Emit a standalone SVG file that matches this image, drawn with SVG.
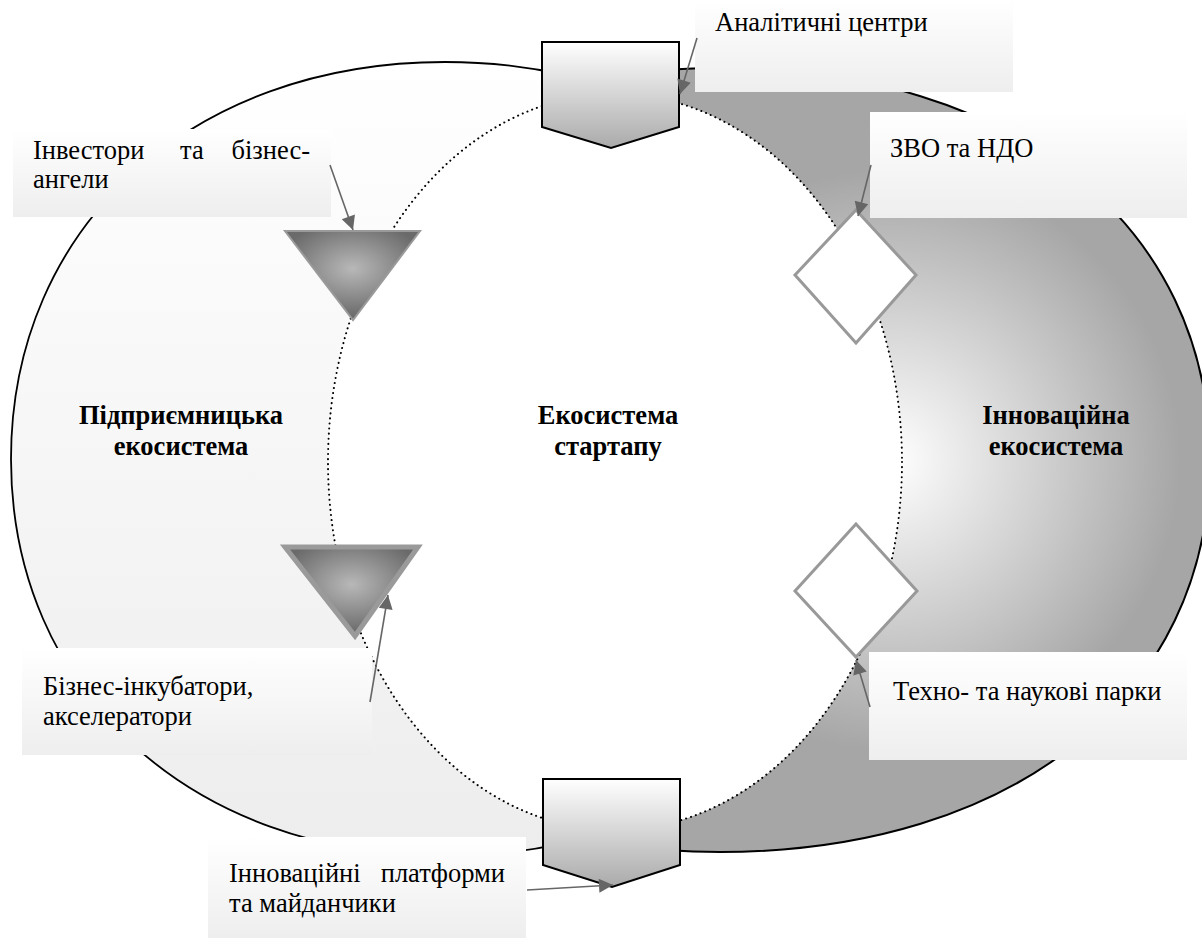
<svg xmlns="http://www.w3.org/2000/svg" width="1202" height="938" viewBox="0 0 1202 938">
<defs>
<linearGradient id="lightFill" x1="0" y1="0" x2="0" y2="1"><stop offset="0" stop-color="#ffffff"/><stop offset="1" stop-color="#ededed"/></linearGradient>
<radialGradient id="darkFill" gradientUnits="userSpaceOnUse" cx="890" cy="460" r="290"><stop offset="0" stop-color="#ffffff"/><stop offset="1" stop-color="#a6a6a6"/></radialGradient>
<linearGradient id="pentFill" x1="0" y1="0" x2="0" y2="1"><stop offset="0" stop-color="#ffffff"/><stop offset="1" stop-color="#aaaaaa"/></linearGradient>
<radialGradient id="triFill" cx="0.5" cy="0.42" r="0.55"><stop offset="0" stop-color="#b8b8b8"/><stop offset="1" stop-color="#6a6a6a"/></radialGradient>
<linearGradient id="calloutFill" x1="0" y1="0" x2="0" y2="1"><stop offset="0" stop-color="#ffffff"/><stop offset="1" stop-color="#eeeeee"/></linearGradient>
<marker id="arr" viewBox="0 0 10 10" refX="10" refY="5" markerWidth="19" markerHeight="14" markerUnits="userSpaceOnUse" orient="auto"><path d="M0,0 L10,5 L0,10 z" fill="#666666"/></marker>
<style>
.lbl{font-family:"Liberation Serif","Times New Roman",serif;font-size:26.5px;fill:#000}
.bold{font-family:"Liberation Serif","Times New Roman",serif;font-size:26.5px;font-weight:bold;fill:#000;text-anchor:middle}
.callout{fill:url(#calloutFill);stroke:none}
.pent{fill:url(#pentFill);stroke:#000;stroke-width:2}
.tri{fill:url(#triFill);stroke:#9a9a9a}
.dia{fill:#ffffff;stroke:#999999;stroke-width:3}
.conn{stroke:#666666;stroke-width:1.6;fill:none;marker-end:url(#arr)}
</style>
</defs>
<g id="innovation-ecosystem">
<path d="M720,68 C1014,68 1210,224.8 1210,460 C1210,695.2 1014,852 720,852 C426,852 230,695.2 230,460 C230,224.8 426,68 720,68 Z" fill="url(#darkFill)" stroke="#000" stroke-width="2"/>
<text class="bold" x="1056" y="424">Інноваційна</text>
<text class="bold" x="1056" y="455">екосистема</text>
</g>
<g id="entrepreneurial-ecosystem">
<path d="M445,62 C191.1,62 11,226.8 11,459 C11,691.2 191.1,856 445,856 C698.9,856 879,691.2 879,459 C879,226.8 698.9,62 445,62 Z" fill="url(#lightFill)" stroke="#000" stroke-width="1.8"/>
<text class="bold" x="181" y="424">Підприємницька</text>
<text class="bold" x="181" y="455">екосистема</text>
</g>
<g id="startup-ecosystem">
<ellipse cx="615" cy="462" rx="287" ry="368" fill="#ffffff" stroke="#000" stroke-width="2" stroke-dasharray="0.1 5" stroke-linecap="round"/>
<text class="bold" x="608" y="424">Екосистема</text>
<text class="bold" x="608" y="455">стартапу</text>
</g>
<g id="pentagon-top"><polygon class="pent" points="542,42 679,42 679,127 611,148 542,127"/></g>
<g id="pentagon-bottom"><polygon class="pent" points="543,779 680,779 680,865 612,887 543,865"/></g>
<g id="triangle-top"><polygon class="tri" stroke-width="2" points="285,231 420,231 353,320"/></g>
<g id="triangle-bottom"><polygon class="tri" stroke-width="5" stroke="#8c8c8c" points="285,547 418,547 355,636"/></g>
<g id="diamond-top"><polygon class="dia" points="856,210 916,275 856,343 795,275"/></g>
<g id="diamond-bottom"><polygon class="dia" points="856,524 917,591 856,657 795,591"/></g>
<g id="callout-analytics">
<rect class="callout" x="695" y="0" width="318" height="92"/>
<text class="lbl" x="715" y="31">Аналітичні центри</text>
</g>
<g id="callout-investors">
<rect class="callout" x="13" y="129" width="318" height="88"/>
<text class="lbl" x="33" y="159">Інвестори</text>
<text class="lbl" x="180" y="159">та</text>
<text class="lbl" x="310" y="159" text-anchor="end">бізнес-</text>
<text class="lbl" x="33" y="188">ангели</text>
</g>
<g id="callout-universities">
<rect class="callout" x="870" y="112" width="317" height="106"/>
<text class="lbl" x="890" y="157">ЗВО та НДО</text>
</g>
<g id="callout-incubators">
<rect class="callout" x="22" y="648" width="350" height="107"/>
<text class="lbl" x="43" y="695">Бізнес-інкубатори,</text>
<text class="lbl" x="43" y="725">акселератори</text>
</g>
<g id="callout-parks">
<rect class="callout" x="869" y="652" width="318" height="108"/>
<text class="lbl" x="893" y="700">Техно- та наукові парки</text>
</g>
<g id="callout-platforms">
<rect class="callout" x="208" y="837" width="318" height="101"/>
<text class="lbl" x="229" y="882">Інноваційні</text>
<text class="lbl" x="505" y="882" text-anchor="end">платформи</text>
<text class="lbl" x="229" y="912">та майданчики</text>
</g>
<g id="connectors">
<line class="conn" x1="697" y1="38" x2="680" y2="94"/>
<line class="conn" x1="330" y1="165" x2="353" y2="230"/>
<line class="conn" x1="871" y1="165" x2="858" y2="216"/>
<line class="conn" x1="370" y1="702" x2="388" y2="595"/>
<line class="conn" x1="870" y1="707" x2="856" y2="660"/>
<line class="conn" x1="527" y1="890" x2="613" y2="885"/>
</g>
</svg>
